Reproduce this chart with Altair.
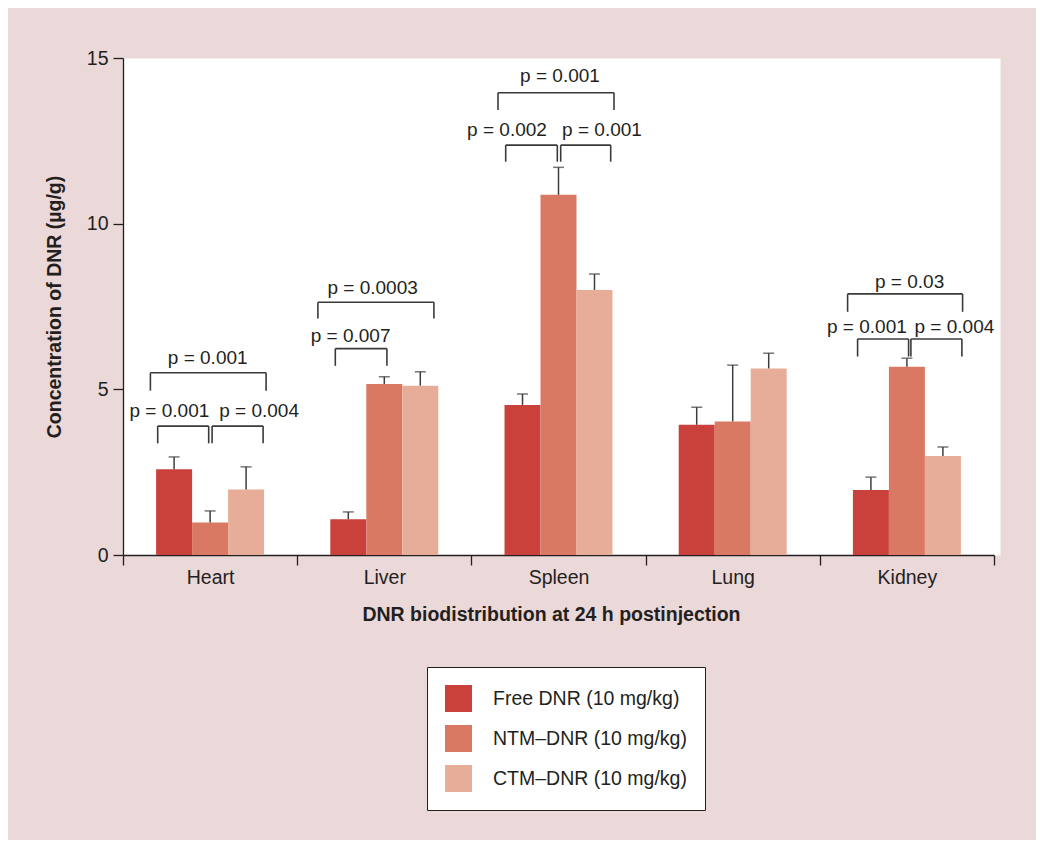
import altair as alt
import pandas as pd

# ---------------- data ----------------
categories = ["Heart", "Liver", "Spleen", "Lung", "Kidney"]
series = ["Free DNR (10 mg/kg)", "NTM–DNR (10 mg/kg)", "CTM–DNR (10 mg/kg)"]
colors = ["#c9413a", "#d97963", "#e8ad98"]

free_mean = [2.59, 1.08, 4.53, 3.93, 1.96]
free_sd = [0.37, 0.22, 0.33, 0.53, 0.39]
ntm_mean = [0.98, 5.16, 10.87, 4.03, 5.68]
ntm_sd = [0.35, 0.22, 0.83, 1.70, 0.26]
ctm_mean = [1.98, 5.11, 8.00, 5.63, 2.99]
ctm_sd = [0.68, 0.42, 0.48, 0.46, 0.27]

# significance brackets: organ, leg offsets (px from group centre), top level, foot level
br_organ = ["Heart", "Heart", "Heart", "Liver", "Liver", "Spleen", "Spleen", "Spleen",
            "Kidney", "Kidney", "Kidney"]
br_left = [-52.4, 2.0, -59.7, -49.0, -66.4, -52.8, 2.2, -60.5, -49.3, 4.0, -59.3]
br_right = [-1.4, 53.0, 56.0, 2.6, 49.6, -1.2, 52.2, 55.5, 1.7, 55.0, 55.7]
br_top = [3.89, 3.89, 5.50, 6.23, 7.63, 12.37, 12.37, 13.95, 6.52, 6.52, 7.88]
br_foot = [3.37, 3.37, 4.96, 5.71, 7.14, 11.87, 11.87, 13.43, 5.99, 5.99, 7.34]

pv_text = ["p = 0.001", "p = 0.004", "p = 0.001", "p = 0.007", "p = 0.0003",
           "p = 0.002", "p = 0.001", "p = 0.001", "p = 0.001", "p = 0.004", "p = 0.03"]
pv_offset = [-40.7, 49.0, -2.4, -33.7, -11.7, -51.5, 43.5, 1.5, -40.0, 47.5, 2.7]
pv_y = [4.35, 4.35, 5.94, 6.62, 8.06, 12.83, 12.83, 14.46, 6.89, 6.89, 8.25]

# ---------------- layout ----------------
W, H = 877, 497
XR = 871
BAND = XR / len(categories)
INK = "#231f20"

rows = []
for s, means, sds in zip(series, [free_mean, ntm_mean, ctm_mean], [free_sd, ntm_sd, ctm_sd]):
    for c, m, sd in zip(categories, means, sds):
        rows.append({"organ": c, "group": s, "mean": m, "upper": m + sd})
bars_df = pd.DataFrame(rows)


def gx(organ, off):
    return categories.index(organ) + 0.5 + off / BAND


seg = []
for o, l, r, t, f in zip(br_organ, br_left, br_right, br_top, br_foot):
    xl, xr = gx(o, l), gx(o, r)
    seg.append({"x": xl, "x2": xr, "y": t, "y2": t})
    seg.append({"x": xl, "x2": xl, "y": t, "y2": f})
    seg.append({"x": xr, "x2": xr, "y": t, "y2": f})
seg_df = pd.DataFrame(seg)

txt_df = pd.DataFrame({
    "x": [gx(o, d) for o, d in zip(br_organ, pv_offset)],
    "y": pv_y,
    "label": pv_text,
})

YTITLE = "Concentration of DNR (µg/g)"
yscale = alt.Scale(domain=[0, 15], nice=False, zero=True)
xband = alt.X("organ:N", sort=categories,
              scale=alt.Scale(paddingInner=0, paddingOuter=0, range=[0, XR]),
              axis=alt.Axis(title="DNR biodistribution at 24 h postinjection",
                            labelAngle=0, tickBand="extent", titleX=428))
xoff = alt.XOffset("group:N", sort=series,
                   scale=alt.Scale(paddingInner=0, paddingOuter=0.92))

bars = alt.Chart(bars_df).mark_bar().encode(
    x=xband,
    xOffset=xoff,
    y=alt.Y("mean:Q", scale=yscale, title=YTITLE, axis=alt.Axis(values=[0, 5, 10, 15])),
    color=alt.Color("group:N", sort=series,
                    scale=alt.Scale(domain=series, range=colors),
                    legend=alt.Legend(title=None, orient="none", legendX=304, legendY=609,
                                      symbolType="square", symbolSize=729,
                                      symbolStrokeWidth=0, labelFontSize=19.5,
                                      labelOffset=21, rowPadding=13, padding=18,
                                      strokeColor=INK, fillColor="white",
                                      labelLimit=400, labelColor=INK)),
)

err = alt.Chart(bars_df).mark_rule(color="#3d3d3d", strokeWidth=1.5).encode(
    x=xband, xOffset=xoff,
    y=alt.Y("mean:Q", scale=yscale, title=YTITLE),
    y2="upper:Q",
)

cap = alt.Chart(bars_df).mark_tick(color="#3d3d3d", thickness=1.5, size=11).encode(
    x=xband, xOffset=xoff,
    y=alt.Y("upper:Q", scale=yscale, title=YTITLE),
)

xq = alt.X("x:Q", scale=alt.Scale(domain=[0, len(categories)], range=[0, XR],
                                  nice=False, zero=False), axis=None)

brackets = alt.Chart(seg_df).mark_rule(color="#3a3a3a", strokeWidth=1.6).encode(
    x=xq, x2="x2:Q",
    y=alt.Y("y:Q", scale=yscale, title=YTITLE), y2="y2:Q",
)

ptext = alt.Chart(txt_df).mark_text(fontSize=19, color=INK, baseline="middle",
                                     align="center").encode(
    x=xq,
    y=alt.Y("y:Q", scale=yscale, title=YTITLE),
    text="label:N",
)

inner = alt.layer(bars, err, cap)
overlay = alt.layer(brackets, ptext)

chart = alt.layer(inner, overlay).resolve_scale(x="independent").properties(
    width=W, height=H,
    autosize=alt.AutoSizeParams(type="none"),
    padding={"left": 115, "top": 50, "right": 36, "bottom": 285},
).configure(
    background="#ebd8d8", font="Liberation Sans"
).configure_view(
    fill="white", stroke="transparent"
).configure_axis(
    grid=False, domainColor=INK, domainWidth=1.3, tickColor=INK, tickWidth=1.3,
    tickSize=10, labelFontSize=19.5, labelColor=INK, titleFontSize=19.5,
    titleFontWeight="bold", titleColor=INK,
).configure_axisX(
    labelPadding=3, titlePadding=19
).configure_axisY(
    labelPadding=5, titlePadding=22
)

chart.save("out.html", embed_options={"renderer": "svg", "actions": False})
